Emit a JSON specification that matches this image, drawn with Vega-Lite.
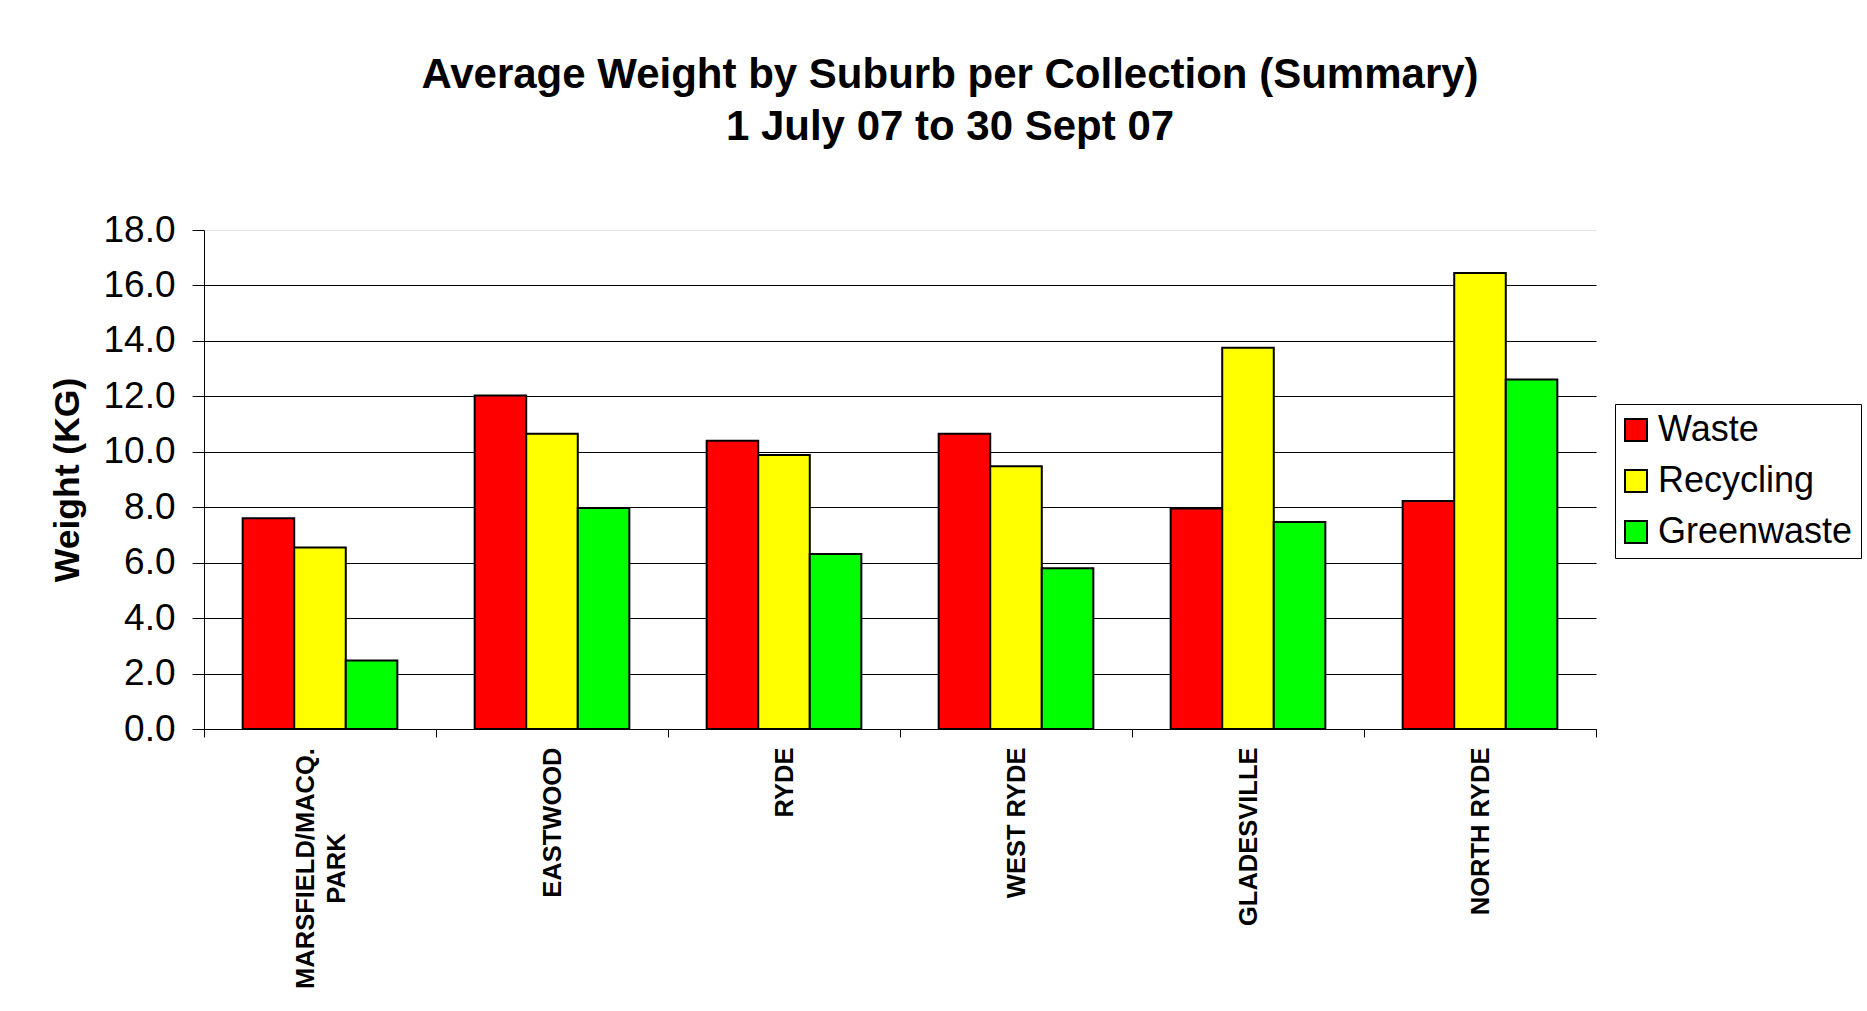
{
  "$schema": "https://vega.github.io/schema/vega-lite/v6.json",
  "width": 1392,
  "height": 499,
  "autosize": {"type": "none"},
  "padding": {"left": 204, "top": 230, "right": 271, "bottom": 282},
  "background": "white",
  "title": {
    "text": ["Average Weight by Suburb per Collection (Summary)", "1 July 07 to 30 Sept 07"],
    "font": "Liberation Sans",
    "fontSize": 42,
    "fontWeight": "bold",
    "lineHeight": 52,
    "anchor": "middle",
    "dx": 50,
    "offset": 62,
    "color": "black"
  },
  "data": {
    "values": [
      {"suburb": "MARSFIELD/MACQ. PARK", "type": "Waste", "weight": 7.6},
      {"suburb": "MARSFIELD/MACQ. PARK", "type": "Recycling", "weight": 6.55},
      {"suburb": "MARSFIELD/MACQ. PARK", "type": "Greenwaste", "weight": 2.47},
      {"suburb": "EASTWOOD", "type": "Waste", "weight": 12.03},
      {"suburb": "EASTWOOD", "type": "Recycling", "weight": 10.65},
      {"suburb": "EASTWOOD", "type": "Greenwaste", "weight": 7.97},
      {"suburb": "RYDE", "type": "Waste", "weight": 10.4},
      {"suburb": "RYDE", "type": "Recycling", "weight": 9.88},
      {"suburb": "RYDE", "type": "Greenwaste", "weight": 6.31},
      {"suburb": "WEST RYDE", "type": "Waste", "weight": 10.65},
      {"suburb": "WEST RYDE", "type": "Recycling", "weight": 9.48},
      {"suburb": "WEST RYDE", "type": "Greenwaste", "weight": 5.8},
      {"suburb": "GLADESVILLE", "type": "Waste", "weight": 7.95},
      {"suburb": "GLADESVILLE", "type": "Recycling", "weight": 13.75},
      {"suburb": "GLADESVILLE", "type": "Greenwaste", "weight": 7.47},
      {"suburb": "NORTH RYDE", "type": "Waste", "weight": 8.22},
      {"suburb": "NORTH RYDE", "type": "Recycling", "weight": 16.45},
      {"suburb": "NORTH RYDE", "type": "Greenwaste", "weight": 12.61}
    ]
  },
  "mark": {"type": "bar", "stroke": "black", "strokeWidth": 2},
  "encoding": {
    "x": {
      "field": "suburb",
      "type": "nominal",
      "sort": ["MARSFIELD/MACQ. PARK", "EASTWOOD", "RYDE", "WEST RYDE", "GLADESVILLE", "NORTH RYDE"],
      "scale": {"paddingInner": 0, "paddingOuter": 0},
      "axis": {
        "title": null,
        "labelAngle": 270,
        "labelFont": "Liberation Sans",
        "labelFontSize": 25.5,
        "labelFontWeight": "bold",
        "labelColor": "black",
        "labelPadding": {"condition": {"test": "datum.value == 'MARSFIELD/MACQ. PARK'", "value": 131}, "value": 10},
        "labelAlign": {"condition": {"test": "datum.value == 'MARSFIELD/MACQ. PARK'", "value": "center"}, "value": "right"},
        "labelOffset": {"condition": {"test": "datum.value == 'MARSFIELD/MACQ. PARK'", "value": -15}, "value": 0},
        "labelLimit": 0,
        "labelLineHeight": 31,
        "labelExpr": "datum.label == 'MARSFIELD/MACQ. PARK' ? ['MARSFIELD/MACQ.', 'PARK'] : datum.label",
        "tickSize": 8,
        "tickBand": "extent",
        "tickColor": "black",
        "domainColor": "black",
        "grid": false
      }
    },
    "xOffset": {
      "field": "type",
      "type": "nominal",
      "sort": ["Waste", "Recycling", "Greenwaste"],
      "scale": {"paddingInner": 0, "paddingOuter": 0.75}
    },
    "y": {
      "field": "weight",
      "type": "quantitative",
      "scale": {"domain": [0, 18], "nice": false},
      "axis": {
        "title": "Weight (KG)",
        "titleFont": "Liberation Sans",
        "titleFontSize": 35.5,
        "titleFontWeight": "bold",
        "titleColor": "black",
        "titlePadding": 17,
        "values": [0, 2, 4, 6, 8, 10, 12, 14, 16, 18],
        "format": ".1f",
        "labelFont": "Liberation Sans",
        "labelFontSize": 37,
        "labelColor": "black",
        "labelPadding": 17,
        "tickSize": 12,
        "tickColor": "black",
        "domainColor": "black",
        "grid": true,
        "gridColor": {"condition": {"test": "datum.value == 18", "value": "#e4e4e4"}, "value": "black"},
        "gridWidth": 1
      }
    },
    "color": {
      "field": "type",
      "type": "nominal",
      "sort": ["Waste", "Recycling", "Greenwaste"],
      "scale": {"domain": ["Waste", "Recycling", "Greenwaste"], "range": ["#FF0000", "#FFFF00", "#00FF00"]},
      "legend": {
        "orient": "none",
        "legendX": 1411,
        "legendY": 174,
        "title": null,
        "strokeColor": "black",
        "fillColor": "white",
        "padding": 8,
        "symbolType": "square",
        "symbolSize": 484,
        "symbolOffset": -5,
        "symbolStrokeColor": "black",
        "symbolStrokeWidth": 2,
        "symbolOpacity": 1,
        "labelFont": "Liberation Sans",
        "labelFontSize": 36,
        "labelColor": "black",
        "labelOffset": 4,
        "rowPadding": 15,
        "labelLimit": 0
      }
    }
  },
  "config": {
    "view": {"stroke": null},
    "axis": {"domainWidth": 1, "tickWidth": 1}
  }
}
